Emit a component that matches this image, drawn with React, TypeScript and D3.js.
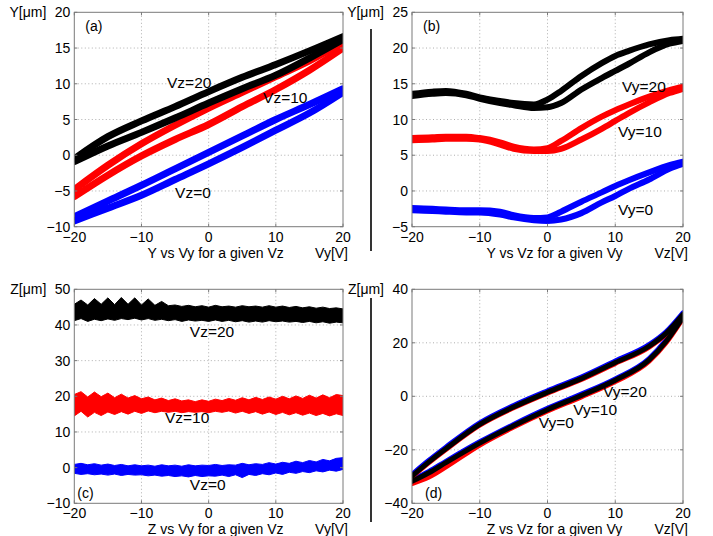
import React from 'react';
import * as d3 from 'd3';

const FONT = '"Liberation Sans", Arial, Helvetica, sans-serif';

// ---------- shared axis data ----------
const voltTicks = [-20, -10, 0, 10, 20];
const aYTicks = [-10, -5, 0, 5, 10, 15, 20];
const bYTicks = [-5, 0, 5, 10, 15, 20, 25];
const cYTicks = [-10, 0, 10, 20, 30, 40, 50];
const dYTicks = [-40, -20, 0, 20, 40];

// ---------- panel (a): Y vs Vy for a given Vz ----------
const aX = [-20, -15, -10, -5, 0, 5, 10, 15, 20];
const aBlackUp = [-0.5, 2.6, 4.8, 6.8, 8.9, 10.9, 12.7, 14.6, 16.6];
const aBlackLo = [-0.9, 1.3, 3.2, 5.2, 7.3, 9.3, 11.2, 13.6, 16.2];
const aRedUp = [-4.8, -1.4, 1.6, 4.2, 6.6, 8.8, 11.0, 13.2, 15.8];
const aRedLo = [-5.8, -2.8, -0.1, 2.2, 4.3, 6.8, 9.2, 11.9, 15.0];
const aBlueUp = [-8.6, -6.4, -4.2, -1.9, 0.4, 2.7, 5.0, 7.1, 9.3];
const aBlueLo = [-9.2, -7.4, -5.6, -3.4, -1.2, 1.1, 3.5, 5.9, 8.8];

// ---------- panel (b): Y vs Vz for a given Vy ----------
const bX = [-20, -17, -15, -12, -10, -7, -5, -2, 0, 2, 5, 8, 10, 12, 15, 18, 20];
const bBlackUp = [13.6, 13.9, 14.0, 13.6, 13.1, 12.6, 12.3, 12.1, 12.8, 14.0, 16.1, 17.9, 18.9, 19.6, 20.5, 21.1, 21.3];
const bBlackLo = [13.3, 13.6, 13.7, 13.4, 12.9, 12.3, 12.0, 11.6, 11.7, 12.3, 14.2, 15.8, 16.8, 17.8, 19.4, 20.6, 21.0];
const bRedUp = [7.4, 7.5, 7.6, 7.6, 7.4, 6.8, 6.2, 5.8, 6.0, 7.0, 8.8, 10.4, 11.3, 12.1, 13.2, 14.1, 14.6];
const bRedLo = [7.1, 7.2, 7.3, 7.3, 7.2, 6.5, 5.9, 5.6, 5.6, 5.9, 7.2, 8.7, 9.8, 10.9, 12.4, 13.7, 14.3];
const bBlueUp = [-2.4, -2.5, -2.6, -2.7, -2.7, -2.9, -3.4, -3.8, -3.7, -2.9, -1.5, -0.2, 0.7, 1.5, 2.6, 3.6, 4.1];
const bBlueLo = [-2.7, -2.8, -2.9, -3.0, -3.0, -3.3, -3.7, -4.1, -4.2, -4.0, -3.1, -1.6, -0.7, 0.3, 1.6, 3.1, 3.8];

// ---------- panel (c): Z vs Vy for a given Vz (band envelopes) ----------
const cX = [
  -20, -19, -18, -17, -16, -15, -14, -13, -12, -11,
  -10, -9, -8, -7, -6, -5, -4, -3, -2, -1,
  0, 1, 2, 3, 4, 5, 6, 7, 8, 9,
  10, 11, 12, 13, 14, 15, 16, 17, 18, 19,
  20,
];
const cBlackTop = [
  45.8, 47.0, 45.6, 47.4, 45.8, 47.6, 45.7, 47.7, 45.8, 47.6,
  45.6, 47.3, 45.5, 46.6, 45.4, 45.6, 45.2, 45.5, 45.1, 45.4,
  45.0, 45.5, 45.1, 45.3, 45.0, 45.4, 45.1, 45.3, 45.0, 45.4,
  45.0, 45.3, 44.9, 45.2, 44.8, 45.1, 44.7, 45.0, 44.6, 44.8,
  44.5,
];
const cBlackBot = [
  41.2, 41.8, 41.0, 41.6, 41.2, 41.7, 41.3, 41.8, 41.5, 41.9,
  41.4, 41.8, 41.3, 41.6, 41.2, 41.5, 41.0, 41.4, 41.1, 41.3,
  41.0, 41.4, 41.0, 41.3, 40.9, 41.2, 40.8, 41.1, 40.8, 41.2,
  40.9, 41.1, 40.8, 41.0, 40.7, 41.0, 40.6, 40.9, 40.5, 40.8,
  40.6,
];
const cRedTop = [
  20.5, 21.3, 19.8, 21.2, 19.9, 20.9, 19.6, 20.6, 19.5, 20.2,
  19.3, 19.8, 19.0, 19.5, 18.8, 19.3, 18.7, 19.0, 18.5, 19.0,
  18.6, 19.2, 18.8, 19.4, 18.9, 19.6, 19.0, 19.7, 19.1, 19.8,
  19.2, 20.0, 19.3, 20.1, 19.4, 20.3, 19.5, 20.4, 19.6, 20.5,
  20.2,
];
const cRedBot = [
  14.5, 15.8, 14.2, 15.5, 14.6, 15.6, 14.9, 15.7, 15.0, 15.8,
  15.2, 15.9, 15.4, 15.8, 15.5, 15.8, 15.4, 15.7, 15.5, 15.7,
  15.4, 15.8, 15.5, 15.9, 15.3, 15.8, 15.2, 15.7, 15.0, 15.6,
  14.9, 15.5, 14.8, 15.4, 14.7, 15.3, 14.6, 15.2, 14.5, 15.1,
  14.6,
];
const cBlueTop = [
  0.9, 1.2, 0.8, 1.1, 0.7, 1.0, 0.6, 0.9, 0.5, 0.8,
  0.5, 0.7, 0.4, 0.8, 0.5, 0.7, 0.4, 0.8, 0.5, 0.7,
  0.6, 0.9, 0.6, 0.8, 0.7, 1.2, 0.8, 1.1, 0.9, 1.4,
  1.0, 1.5, 1.2, 1.8, 1.4, 2.0, 1.6, 2.3, 1.9, 2.6,
  2.8,
];
const cBlueBot = [
  -1.6, -1.9, -1.7, -2.0, -1.8, -2.1, -1.8, -2.2, -1.9, -2.1,
  -2.0, -2.3, -2.1, -2.4, -2.2, -2.5, -2.3, -2.6, -2.2, -2.5,
  -2.3, -2.4, -2.1, -2.5, -2.0, -2.8, -1.9, -2.2, -1.7, -2.0,
  -1.5, -1.9, -1.3, -1.6, -1.1, -1.4, -0.9, -1.2, -0.7, -1.0,
  -0.5,
];

// ---------- panel (d): Z vs Vz for a given Vy ----------
const dX = [-20, -17.5, -15, -10, -5, 0, 5, 10, 15, 17.5, 20];
const dBlueUp = [-29.2, -23.9, -19.0, -9.9, -3.4, 2.1, 7.2, 13.2, 19.3, 24.1, 31.2];
const dBlueLo = [-31.3, -28.1, -24.3, -17.0, -10.5, -4.5, 0.8, 6.5, 14.1, 21.0, 30.1];
const dRedUp = [-30.1, -24.8, -19.9, -10.8, -4.3, 1.2, 6.3, 12.3, 18.4, 23.2, 30.3];
const dRedLo = [-32.6, -30.2, -26.4, -18.2, -11.5, -5.5, -0.2, 5.5, 13.1, 20.0, 29.2];
const dBlackUp = [-29.8, -24.5, -19.6, -10.5, -4.0, 1.5, 6.6, 12.6, 18.7, 23.5, 30.6];
const dBlackLo = [-31.8, -28.6, -24.8, -17.5, -11.0, -5.0, 0.3, 6.0, 13.6, 20.5, 29.6];

// ---------- labels ----------
const aLabels = [
  { t: 'Vz=20', x: -6.2, y: 9.4 },
  { t: 'Vz=10', x: 8.1, y: 7.3 },
  { t: 'Vz=0', x: -5.0, y: -6.0 },
];
const bLabels = [
  { t: 'Vy=20', x: 11.0, y: 13.8 },
  { t: 'Vy=10', x: 10.4, y: 7.6 },
  { t: 'Vy=0', x: 10.4, y: -3.4 },
];
const cLabels = [
  { t: 'Vz=20', x: -2.8, y: 36.6 },
  { t: 'Vz=10', x: -6.5, y: 12.5 },
  { t: 'Vz=0', x: -2.8, y: -6.3 },
];
const dLabels = [
  { t: 'Vy=20', x: 8.2, y: -0.3 },
  { t: 'Vy=10', x: 3.8, y: -7.0 },
  { t: 'Vy=0', x: -1.3, y: -11.8 },
];

const fmt = (v: number) => String(v).replace('-', '\u2212');

type Scales = { sx: d3.ScaleLinear<number, number>; sy: d3.ScaleLinear<number, number> };

type PanelProps = {
  id: string;
  x0: number; x1: number; y0: number; y1: number;
  yDomain: [number, number];
  yTicks: number[];
  yLabel: string;
  xLabel: string;
  unitLabel: string;
  letter: string;
  letterPos: 'top' | 'bottom';
  labels: { t: string; x: number; y: number }[];
  render: (s: Scales) => React.ReactNode;
};

function Panel(p: PanelProps) {
  const sx = d3.scaleLinear().domain([-20, 20]).range([p.x0, p.x1]);
  const sy = d3.scaleLinear().domain(p.yDomain).range([p.y1, p.y0]);
  const frame = '#7a7a7a';
  const grid = '#9a9a9a';
  const tl = 3;
  return (
    <g fontFamily={FONT}>
      <defs>
        <clipPath id={`clip-${p.id}`}>
          <rect x={p.x0} y={p.y0} width={p.x1 - p.x0} height={p.y1 - p.y0} />
        </clipPath>
      </defs>
      <rect x={p.x0} y={p.y0} width={p.x1 - p.x0} height={p.y1 - p.y0} fill="#fff" />
      {voltTicks.slice(1, -1).map((v) => (
        <line key={'gx' + v} x1={sx(v)} x2={sx(v)} y1={p.y0} y2={p.y1}
          stroke={grid} strokeWidth={0.8} strokeDasharray="1,2.5" />
      ))}
      {p.yTicks.slice(1, -1).map((v) => (
        <line key={'gy' + v} x1={p.x0} x2={p.x1} y1={sy(v)} y2={sy(v)}
          stroke={grid} strokeWidth={0.8} strokeDasharray="1,2.5" />
      ))}
      <g clipPath={`url(#clip-${p.id})`}>{p.render({ sx, sy })}</g>
      <rect x={p.x0} y={p.y0} width={p.x1 - p.x0} height={p.y1 - p.y0}
        fill="none" stroke={frame} strokeWidth={1} />
      {voltTicks.map((v) => (
        <g key={'tx' + v}>
          <line x1={sx(v)} x2={sx(v)} y1={p.y1} y2={p.y1 - tl} stroke={frame} />
          <line x1={sx(v)} x2={sx(v)} y1={p.y0} y2={p.y0 + tl} stroke={frame} />
          <text x={sx(v)} y={p.y1 + 15} fontSize={14} textAnchor="middle" fill="#000">{fmt(v)}</text>
        </g>
      ))}
      {p.yTicks.map((v) => (
        <g key={'ty' + v}>
          <line x1={p.x0} x2={p.x0 + tl} y1={sy(v)} y2={sy(v)} stroke={frame} />
          <line x1={p.x1} x2={p.x1 - tl} y1={sy(v)} y2={sy(v)} stroke={frame} />
          <text x={p.x0 - 4} y={sy(v) + 5} fontSize={14} textAnchor="end" fill="#000">{fmt(v)}</text>
        </g>
      ))}
      <text x={p.x0 - 28} y={p.y0 + 5} fontSize={14} textAnchor="end" fill="#000">{p.yLabel}</text>
      <text x={(p.x0 + p.x1) / 2 + 7} y={p.y1 + 31} fontSize={14} textAnchor="middle" fill="#000">{p.xLabel}</text>
      <text x={p.x1 + 5} y={p.y1 + 31} fontSize={14} textAnchor="end" fill="#000">{p.unitLabel}</text>
      {p.labels.map((l) => (
        <text key={l.t} x={sx(l.x)} y={sy(l.y)} fontSize={15.5} fill="#000">{l.t}</text>
      ))}
      <text x={p.letterPos === 'top' ? p.x0 + 11 : p.x0 + (p.id === 'c' ? 3 : 13)}
        y={p.letterPos === 'top' ? p.y0 + 19 : p.y1 - 5} fontSize={14} fill="#000">{p.letter}</text>
    </g>
  );
}

function branch(xs: number[], ys: number[], s: Scales) {
  const line = d3.line<number>()
    .x((_, i) => s.sx(xs[i]))
    .y((d) => s.sy(d))
    .curve(d3.curveMonotoneX);
  return line(ys) || '';
}

function Loop({ xs, up, lo, color, s, w }: { xs: number[]; up: number[]; lo: number[]; color: string; s: Scales; w: number }) {
  return (
    <g fill="none" stroke={color} strokeWidth={w} strokeLinecap="round" strokeLinejoin="round">
      <path d={branch(xs, up, s)} />
      <path d={branch(xs, lo, s)} />
    </g>
  );
}

function Band({ xs, top, bot, color, s }: { xs: number[]; top: number[]; bot: number[]; color: string; s: Scales }) {
  const area = d3.area<number>()
    .x((_, i) => s.sx(xs[i]))
    .y0((_, i) => s.sy(bot[i]))
    .y1((d) => s.sy(d))
    .curve(d3.curveLinear);
  return <path d={area(top) || ''} fill={color} stroke={color} strokeWidth={1} />;
}

export default function App() {
  const top = { y0: 12.3, y1: 226.7 };
  const bottom = { y0: 289.3, y1: 503.3 };
  const left = { x0: 74.3, x1: 343 };
  const right = { x0: 412, x1: 683 };
  return (
    <svg width={713} height={536} style={{ position: 'absolute', left: 0, top: 0, background: '#fff' }}>
      <rect x={0} y={0} width={713} height={536} fill="#fff" />
      <Panel id="a" {...left} {...top} yDomain={[-10, 20]} yTicks={aYTicks}
        yLabel="Y[μm]" xLabel="Y vs Vy for a given Vz" unitLabel="Vy[V]" letter="(a)" letterPos="top"
        labels={aLabels}
        render={(s) => (
          <>
            <Loop xs={aX} up={aBlueUp} lo={aBlueLo} color="#0000ff" s={s} w={7} />
            <Loop xs={aX} up={aRedUp} lo={aRedLo} color="#ff0000" s={s} w={7} />
            <Loop xs={aX} up={aBlackUp} lo={aBlackLo} color="#000000" s={s} w={7} />
          </>
        )} />
      <Panel id="b" {...right} {...top} yDomain={[-5, 25]} yTicks={bYTicks}
        yLabel="Y[μm]" xLabel="Y vs Vz for a given Vy" unitLabel="Vz[V]" letter="(b)" letterPos="top"
        labels={bLabels}
        render={(s) => (
          <>
            <Loop xs={bX} up={bBlueUp} lo={bBlueLo} color="#0000ff" s={s} w={6} />
            <Loop xs={bX} up={bRedUp} lo={bRedLo} color="#ff0000" s={s} w={6} />
            <Loop xs={bX} up={bBlackUp} lo={bBlackLo} color="#000000" s={s} w={6} />
          </>
        )} />
      <Panel id="c" {...left} {...bottom} yDomain={[-10, 50]} yTicks={cYTicks}
        yLabel="Z[μm]" xLabel="Z vs Vy for a given Vz" unitLabel="Vy[V]" letter="(c)" letterPos="bottom"
        labels={cLabels}
        render={(s) => (
          <>
            <Band xs={cX} top={cBlackTop} bot={cBlackBot} color="#000000" s={s} />
            <Band xs={cX} top={cRedTop} bot={cRedBot} color="#ff0000" s={s} />
            <Band xs={cX} top={cBlueTop} bot={cBlueBot} color="#0000ff" s={s} />
          </>
        )} />
      <Panel id="d" {...right} {...bottom} yDomain={[-40, 40]} yTicks={dYTicks}
        yLabel="Z[μm]" xLabel="Z vs Vz for a given Vy" unitLabel="Vz[V]" letter="(d)" letterPos="bottom"
        labels={dLabels}
        render={(s) => (
          <>
            <Loop xs={dX} up={dBlueUp} lo={dBlueLo} color="#0000ff" s={s} w={5} />
            <Loop xs={dX} up={dRedUp} lo={dRedLo} color="#ff0000" s={s} w={5} />
            <Loop xs={dX} up={dBlackUp} lo={dBlackLo} color="#000000" s={s} w={5} />
          </>
        )} />
      <line x1={371} x2={371} y1={29} y2={251} stroke="#000" strokeWidth={1.6} />
      <line x1={371} x2={371} y1={298} y2={522} stroke="#000" strokeWidth={1.6} />
    </svg>
  );
}
